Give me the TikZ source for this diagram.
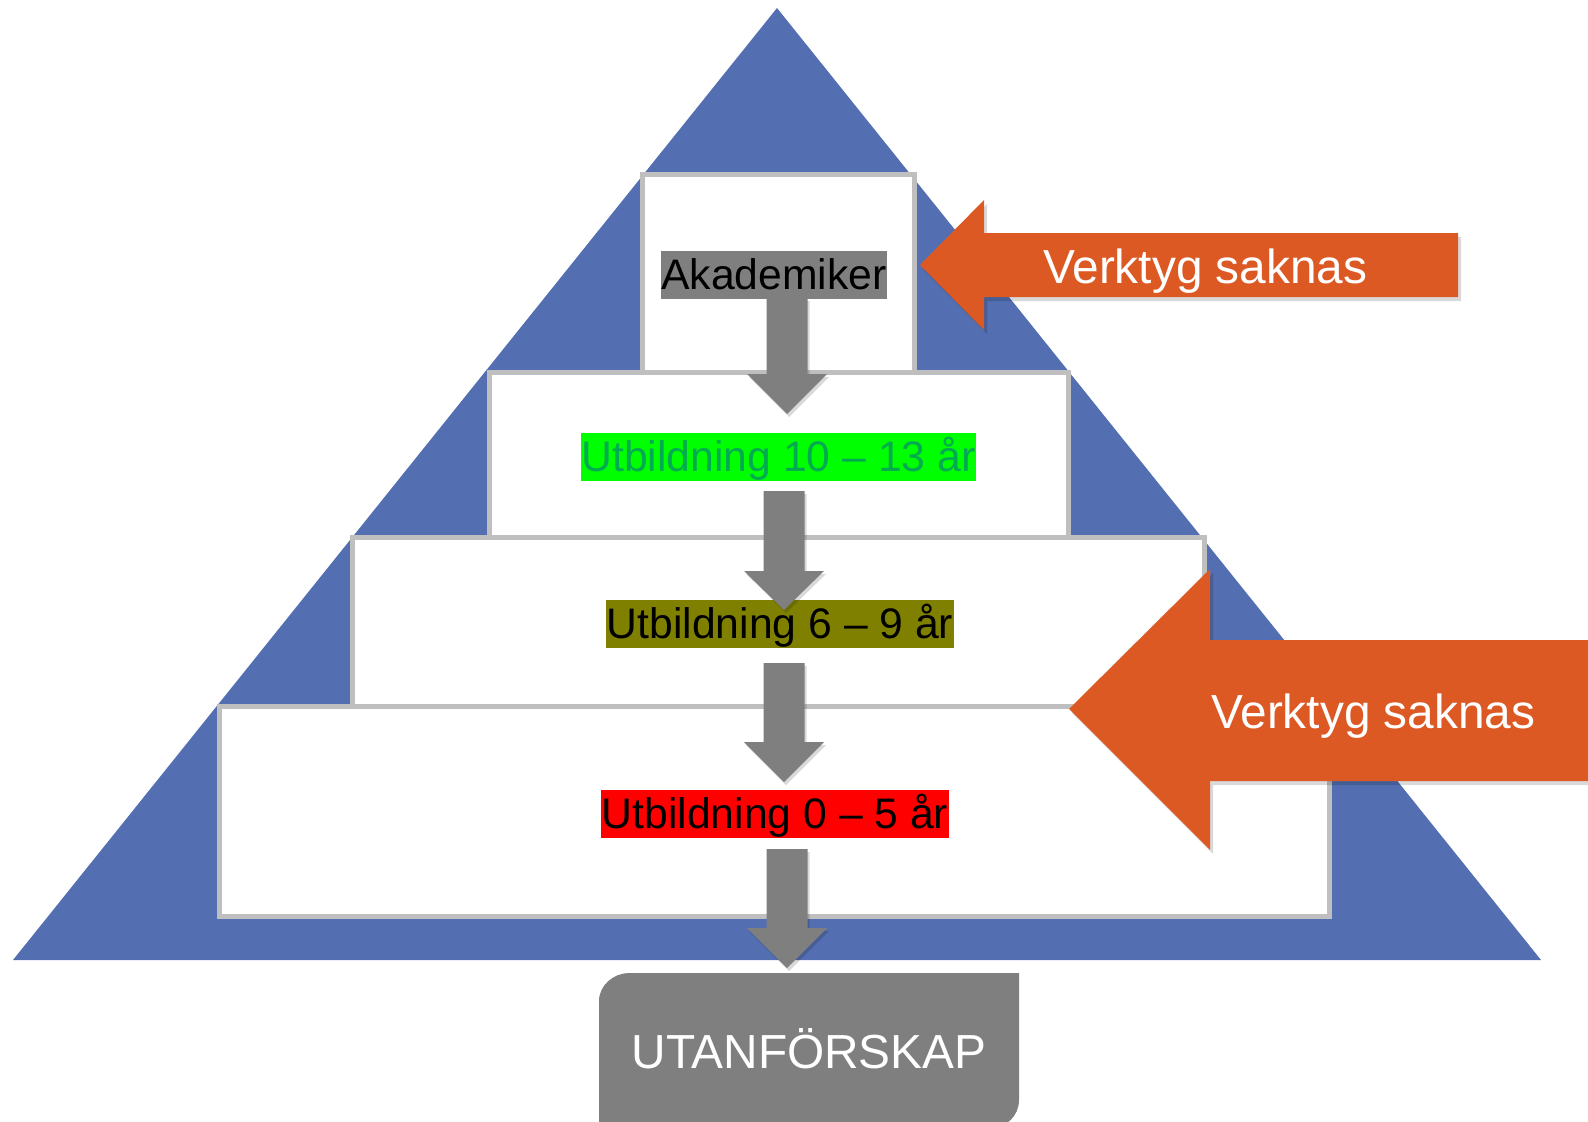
\documentclass[tikz,border=0pt]{standalone}
\usepackage{fontspec}
\setmainfont{Liberation Sans}
\usetikzlibrary{shadows}
\definecolor{pyr}{RGB}{83,111,177}
\definecolor{tierline}{RGB}{191,191,191}
\definecolor{arrgray}{RGB}{127,127,127}
\definecolor{orng}{RGB}{221,89,36}
\definecolor{txtgreen}{RGB}{0,170,80}
\definecolor{hlgreen}{RGB}{0,255,0}
\definecolor{hlolive}{RGB}{128,128,0}
\definecolor{hlred}{RGB}{255,0,0}
\newcommand\grayarrow[4]{%
  \fill[downarr] (#1-20.5,#2) -- (#1+20.5,#2) -- (#1+20.5,#3) -- (#1+40,#3)
    -- (#1,#4) -- (#1-40,#3) -- (#1-20.5,#3) -- cycle;}
\begin{document}
\begin{tikzpicture}[x=1pt,y=-1pt,
  tier/.style={draw=tierline, fill=white, line width=5pt, inner sep=0pt, outer sep=0pt},
  lbl/.style={inner xsep=0.5pt, inner ysep=0pt, text height=38pt, text depth=10pt,
    font=\fontsize{42.7}{50}\selectfont, anchor=base},
  downarr/.style={fill=arrgray, drop shadow={opacity=0.15, shadow xshift=2pt, shadow yshift=-3pt, fill=black}},
  orarr/.style={fill=orng, drop shadow={opacity=0.15, shadow xshift=3pt, shadow yshift=-4pt, fill=black}},
  wtxt/.style={text=white, inner sep=0pt, font=\fontsize{47.8}{56}\selectfont}]
\useasboundingbox (0,0) rectangle (1588,1122);
% pyramid
\fill[pyr] (777,8) -- (1541,960) -- (13,960) -- cycle;
% tiers
\node[tier, minimum width=272pt, minimum height=197.5pt] (t1) at (778.5,273.25) {};
\node[tier, minimum width=579pt, minimum height=165.5pt] (t2) at (779,454.75) {};
\node[tier, minimum width=852pt, minimum height=169pt] (t3) at (778.5,622) {};
\node[tier, minimum width=1110pt, minimum height=210pt] (t4) at (774.5,811.5) {};
% labels
\node[lbl, fill=arrgray, text=black] (akad) at (774,289) {Akademiker};
\node[lbl, fill=hlgreen, text=txtgreen] (u1013) at (778.5,471) {Utbildning 10 – 13 år};
\node[lbl, fill=hlolive, text=black] (u69) at (780,638) {Utbildning 6 – 9 år};
\node[lbl, fill=hlred, text=black] (u05) at (775,828) {Utbildning 0 – 5 år};
% gray down arrows
\grayarrow{787}{298}{374}{414}
\grayarrow{784}{491}{571}{610}
\grayarrow{784}{663}{742}{782}
\grayarrow{787}{849}{928}{968}
% outcome box
\fill[arrgray] (599,1128) -- (599,1001) .. controls (599,985.5) and (613.5,973) .. (629,973)
  -- (1019,973) -- (1019,1100) .. controls (1019,1115.5) and (1006.5,1128) .. (991,1128) -- cycle;
\node[wtxt, anchor=base] (ut) at (809,1068) {UTANFÖRSKAP};
% orange arrows
\fill[orarr] (920,265) -- (984,200) -- (984,233) -- (1458,233) -- (1458,297)
  -- (984,297) -- (984,330) -- cycle;
\node[wtxt, anchor=base west] (v1) at (1043,283) {Verktyg saknas};
\fill[orarr] (1069,709) -- (1210,569) -- (1210,640) -- (1600,640) -- (1600,781)
  -- (1210,781) -- (1210,850) -- cycle;
\node[wtxt, anchor=base west] (v2) at (1211,728) {Verktyg saknas};
\end{tikzpicture}
\end{document}
